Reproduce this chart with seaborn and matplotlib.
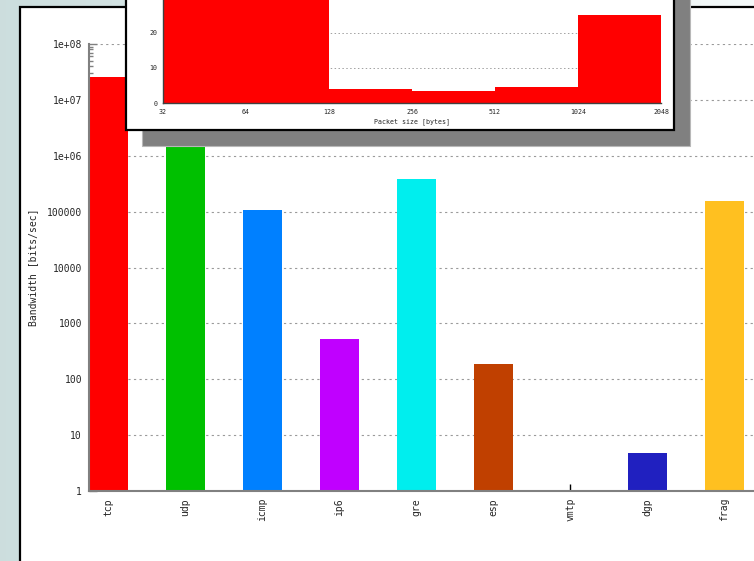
import numpy as np
import pandas as pd
import matplotlib
matplotlib.use("Agg")
import matplotlib.pyplot as plt
import matplotlib.patches as mpatches
from matplotlib.ticker import FixedLocator, FixedFormatter, NullFormatter, LogLocator
import seaborn as sns

# Bandwidth per IP protocol (bits/sec)
protocols = ["tcp", "udp", "icmp", "ip6", "gre", "esp", "vmtp", "dgp", "frag"]
bandwidth = [2.6e7, 3.0e6, 1.05e5, 518, 3.8e5, 185, 0, 4.8, 1.57e5]
bar_colors = ["#ff0000", "#00c000", "#0080ff", "#c000ff", "#00eeee",
              "#c04000", "#c8c800", "#2020c0", "#ffc020"]
ytick_values = [1, 10, 100, 1e3, 1e4, 1e5, 1e6, 1e7, 1e8]
ytick_labels = ["1", "10", "100", "1000", "10000", "100000",
                "1e+06", "1e+07", "1e+08"]

# Packet size distribution (% of packets)
size_edges = [32, 64, 128, 256, 512, 1024, 2048]
size_share = [34.0, 31.0, 4.1, 3.3, 4.5, 24.9]
size_ticks = [32, 64, 128, 256, 512, 1024, 2048]
share_ticks = [0, 10, 20]

sns.set_theme(style="white")
plt.rcParams["font.family"] = ["DejaVu Sans Mono", "DejaVu Sans"]

W, H = 754, 561
fig = plt.figure(figsize=(W / 100, H / 100), dpi=100)


def fx(px):
    return px / W


def fy(py):
    return 1 - py / H


# desktop-like backdrop
bg = fig.add_axes([0, 0, 1, 1], zorder=-3)
c0 = np.array([0.80, 0.87, 0.87])
c1 = np.array([0.96, 0.98, 0.98])
t = np.linspace(0, 1, 256)[None, :, None]
grad = np.repeat(c0 + (c1 - c0) * t, 4, axis=0)
bg.imshow(grad, aspect="auto", extent=[0, 1, 0, 1])
bg.axis("off")

# main white panel
fig.add_artist(mpatches.Rectangle((fx(20), -0.1), 2, fy(7) + 0.1,
                                  transform=fig.transFigure, facecolor="white",
                                  edgecolor="black", lw=1.6, zorder=-2))

# main bar chart
ax = fig.add_axes([fx(89), fy(491), fx(754) - fx(89), (491 - 44) / H], zorder=0)
ax.set_facecolor("none")
df = pd.DataFrame({"protocol": protocols, "bandwidth": bandwidth})
sns.barplot(data=df, x="protocol", y="bandwidth", hue="protocol",
            palette=bar_colors, width=0.5, saturation=1, linewidth=0,
            legend=False, ax=ax)
ax.set_yscale("log")
ax.set_ylim(1, 1e8)
ax.set_xlim(-0.25, 8.386)
ax.yaxis.set_major_locator(FixedLocator(ytick_values))
ax.yaxis.set_major_formatter(FixedFormatter(ytick_labels))
ax.yaxis.set_minor_locator(LogLocator(base=10, subs=np.arange(2, 10)))
ax.yaxis.set_minor_formatter(NullFormatter())
ax.tick_params(axis="y", which="major", direction="in", length=6, width=1,
               color="#808080", labelsize=7, pad=5, left=True)
ax.tick_params(axis="y", which="minor", direction="in", length=3, width=1,
               color="#808080", left=True)
ax.tick_params(axis="x", direction="in", length=5, width=1, color="black",
               labelsize=7, pad=5, labelrotation=90, bottom=True)
for side in ("top", "right"):
    ax.spines[side].set_visible(False)
for side in ("left", "bottom"):
    ax.spines[side].set_color("#808080")
    ax.spines[side].set_linewidth(1.5)
ax.set_axisbelow(True)
ax.yaxis.grid(True, which="major", linestyle=(0, (2, 3)), color="#9a9a9a", lw=0.8)
ax.xaxis.grid(False)
ax.set_xlabel("")
ax.set_ylabel("Bandwidth [bits/sec]", fontsize=7)
ax.yaxis.set_label_coords(-0.077, 0.5)

# inset panel with drop shadow
fig.add_artist(mpatches.Rectangle((fx(142), fy(146)), fx(690) - fx(142), 1.1 - fy(146),
                                  transform=fig.transFigure, facecolor="#808080",
                                  edgecolor="#b8b8b8", lw=0.8, zorder=1))
fig.add_artist(mpatches.Rectangle((fx(126), fy(130)), fx(674) - fx(126), 1.1 - fy(130),
                                  transform=fig.transFigure, facecolor="white",
                                  edgecolor="black", lw=1.6, zorder=2))

ax2 = fig.add_axes([fx(163), fy(103), fx(661) - fx(163), 40 * 3.52 / H], zorder=3)
ax2.set_facecolor("none")
mids = [np.sqrt(a * b) for a, b in zip(size_edges[:-1], size_edges[1:])]
sns.histplot(x=mids, weights=size_share, bins=size_edges, color="#ff0000",
             alpha=1, linewidth=0, ax=ax2)
ax2.set_xscale("log", base=2)
ax2.set_xlim(32, 2048)
ax2.set_ylim(0, 40)
ax2.xaxis.set_major_locator(FixedLocator(size_ticks))
ax2.xaxis.set_major_formatter(FixedFormatter([str(v) for v in size_ticks]))
ax2.xaxis.set_minor_formatter(NullFormatter())
ax2.xaxis.set_minor_locator(FixedLocator([]))
ax2.yaxis.set_major_locator(FixedLocator(share_ticks))
ax2.yaxis.set_major_formatter(FixedFormatter([str(v) for v in share_ticks]))
ax2.tick_params(axis="both", length=0, labelsize=4.8, pad=4)
for side in ("top", "right"):
    ax2.spines[side].set_visible(False)
for side in ("left", "bottom"):
    ax2.spines[side].set_color("#404040")
    ax2.spines[side].set_linewidth(1)
ax2.set_axisbelow(True)
ax2.yaxis.grid(True, linestyle=(0, (1.5, 2.5)), color="#a0a0a0", lw=0.7)
ax2.xaxis.grid(False)
ax2.set_ylabel("")
ax2.set_xlabel("Packet size [bytes]", fontsize=4.8, labelpad=3)

fig.savefig("out.png", dpi=100)
